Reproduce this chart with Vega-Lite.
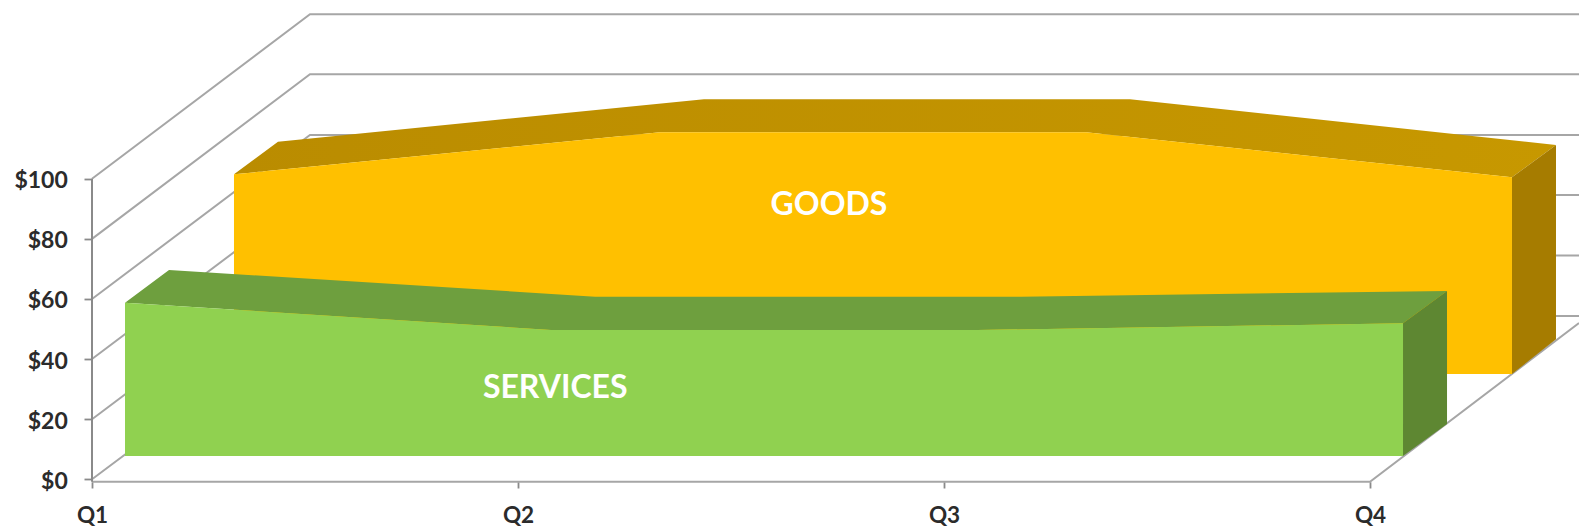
{"$schema":"https://vega.github.io/schema/vega-lite/v6.json","width":1579,"height":529,"padding":0,"autosize":{"type":"none"},"background":"#ffffff","config":{"view":{"stroke":null}},
"layer":[
{"data":{"values":[
{"line":"g0","p":1,"quarter":0,"amount":0},{"line":"g0","p":2,"quarter":0.5117,"amount":54.32},{"line":"g0","p":3,"quarter":3.4906,"amount":54.32},
{"line":"g20","p":1,"quarter":0,"amount":20},{"line":"g20","p":2,"quarter":0.5117,"amount":74.45},{"line":"g20","p":3,"quarter":3.4906,"amount":74.45},
{"line":"g40","p":1,"quarter":0,"amount":40},{"line":"g40","p":2,"quarter":0.5117,"amount":94.58},{"line":"g40","p":3,"quarter":3.4906,"amount":94.58},
{"line":"g60","p":1,"quarter":0,"amount":60},{"line":"g60","p":2,"quarter":0.5117,"amount":114.54},{"line":"g60","p":3,"quarter":3.4906,"amount":114.54},
{"line":"g80","p":1,"quarter":0,"amount":80},{"line":"g80","p":2,"quarter":0.5117,"amount":134.76},{"line":"g80","p":3,"quarter":3.4906,"amount":134.76},
{"line":"g100","p":1,"quarter":0,"amount":100},{"line":"g100","p":2,"quarter":0.5117,"amount":154.72},{"line":"g100","p":3,"quarter":3.4906,"amount":154.72},
{"line":"floor","p":1,"quarter":0,"amount":-0.8},{"line":"floor","p":2,"quarter":3,"amount":-0.8},{"line":"floor","p":3,"quarter":3.4906,"amount":52}
]},
"mark":{"type":"line","stroke":"#a6a6a6","strokeWidth":2,"strokeJoin":"miter"},
"encoding":{"x":{"field":"quarter","type":"quantitative","scale":{"domain":[-0.21596,3.4906],"nice":false,"zero":false},
"axis":{"title":null,"values":[0,1,2,3],"labelExpr":"'Q' + (datum.value + 1)","offset":-47.3,"domain":false,"grid":false,"tickColor":"#8a8a8a","tickWidth":1.8,"tickSize":6.3,"labelPadding":34.5,"labelFont":"Lato","labelFontWeight":"bold","labelFontSize":22.5,"labelColor":"#2b2b2b","labelBaseline":"alphabetic","labelFlush":false,"labelOverlap":false}},
"y":{"field":"amount","type":"quantitative","scale":{"domain":[-16.53,159.45],"nice":false,"zero":false},
"axis":{"title":null,"values":[0,20,40,60,80,100],"format":"$d","offset":-92,"domain":false,"grid":false,"tickColor":"#8a8a8a","tickWidth":1.8,"tickSize":8,"labelPadding":16.7,"labelOffset":2,"labelFont":"Lato","labelFontWeight":"bold","labelFontSize":23,"labelColor":"#2b2b2b","labelOverlap":false}},
"detail":{"field":"line"},"order":{"field":"p"}}},
{"data":{"values":[{"quarter":0,"amount":-0.8},{"quarter":0,"amount":100}]},
"mark":{"type":"line","stroke":"#8a8a8a","strokeWidth":2},
"encoding":{"x":{"field":"quarter","type":"quantitative"},"y":{"field":"amount","type":"quantitative"}}},
{"data":{"values":[
{"face":"goods top","v":1,"quarter":0.3333,"amount":101.46},{"face":"goods top","v":2,"quarter":1.3333,"amount":115.44},{"face":"goods top","v":3,"quarter":2.3333,"amount":115.44},{"face":"goods top","v":4,"quarter":3.3333,"amount":100.47},{"face":"goods top","v":5,"quarter":3.4366,"amount":111.21},{"face":"goods top","v":6,"quarter":2.4366,"amount":126.41},{"face":"goods top","v":7,"quarter":1.4366,"amount":126.41},{"face":"goods top","v":8,"quarter":0.4366,"amount":112.31}
]},
"mark":{"type":"line","strokeWidth":0,"fill":{"x1":0,"y1":0,"x2":1,"y2":0,"gradient":"linear","stops":[{"offset":0,"color":"#ba8c00"},{"offset":1,"color":"#c79800"}]}},
"encoding":{"x":{"field":"quarter","type":"quantitative"},"y":{"field":"amount","type":"quantitative"},"order":{"field":"v"}}},
{"data":{"values":[
{"face":"goods side","v":1,"quarter":3.3333,"amount":100.47},{"face":"goods side","v":2,"quarter":3.4366,"amount":111.21},{"face":"goods side","v":3,"quarter":3.4366,"amount":46.57},{"face":"goods side","v":4,"quarter":3.3333,"amount":35.03},
{"face":"goods front","v":1,"quarter":0.3333,"amount":101.46},{"face":"goods front","v":2,"quarter":1.3333,"amount":115.44},{"face":"goods front","v":3,"quarter":2.3333,"amount":115.44},{"face":"goods front","v":4,"quarter":3.3333,"amount":100.47},{"face":"goods front","v":5,"quarter":3.3333,"amount":35.03},{"face":"goods front","v":6,"quarter":0.3333,"amount":35.03},
{"face":"services top","v":1,"quarter":0.0775,"amount":58.75},{"face":"services top","v":2,"quarter":1.0775,"amount":49.67},{"face":"services top","v":3,"quarter":2.0775,"amount":49.67},{"face":"services top","v":4,"quarter":3.0775,"amount":51.9},{"face":"services top","v":5,"quarter":3.1808,"amount":62.64},{"face":"services top","v":6,"quarter":2.1808,"amount":60.75},{"face":"services top","v":7,"quarter":1.1808,"amount":60.75},{"face":"services top","v":8,"quarter":0.1808,"amount":69.63},
{"face":"services side","v":1,"quarter":3.0775,"amount":51.9},{"face":"services side","v":2,"quarter":3.1808,"amount":62.64},{"face":"services side","v":3,"quarter":3.1808,"amount":18.4},{"face":"services side","v":4,"quarter":3.0775,"amount":7.75},
{"face":"services front","v":1,"quarter":0.0775,"amount":58.75},{"face":"services front","v":2,"quarter":1.0775,"amount":49.67},{"face":"services front","v":3,"quarter":2.0775,"amount":49.67},{"face":"services front","v":4,"quarter":3.0775,"amount":51.9},{"face":"services front","v":5,"quarter":3.0775,"amount":7.75},{"face":"services front","v":6,"quarter":0.0775,"amount":7.75}
]},
"mark":{"type":"line","strokeWidth":0},
"encoding":{"x":{"field":"quarter","type":"quantitative"},"y":{"field":"amount","type":"quantitative"},"detail":{"field":"face"},"order":{"field":"v"},
"fill":{"field":"face","type":"nominal","legend":null,"sort":null,"scale":{"domain":["goods side","goods front","services top","services side","services front"],"range":["#a67c00","#ffc000","#6e9f3e","#5e8732","#90d150"]}}}},
{"data":{"values":[{"label":"GOODS","quarter":1.73,"amount":91.3},{"label":"SERVICES","quarter":1.0873,"amount":30.3}]},
"mark":{"type":"text","font":"Lato","fontWeight":"bold","fontSize":32,"color":"#ffffff","align":"center","baseline":"middle"},
"encoding":{"x":{"field":"quarter","type":"quantitative"},"y":{"field":"amount","type":"quantitative"},"text":{"field":"label"}}}
]}
